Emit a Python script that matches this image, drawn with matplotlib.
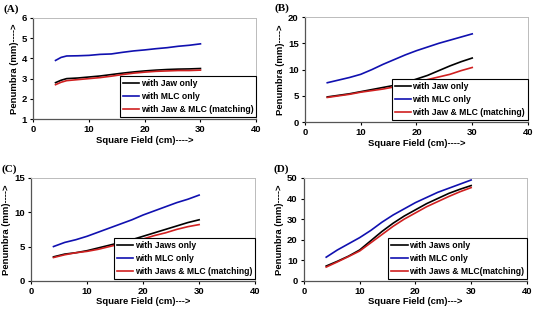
import matplotlib
matplotlib.use("Agg")
import matplotlib.pyplot as plt

field = [4, 6, 8, 10, 12, 14, 16, 18, 20, 22, 24, 26, 28, 30]
field_a = [4, 5, 6, 8, 10, 12, 14, 16, 18, 20, 22, 24, 26, 28, 30]

# (A)
a_jaw = [2.8, 2.92, 3.0, 3.03, 3.08, 3.13, 3.2, 3.27, 3.33, 3.38, 3.42, 3.45, 3.47, 3.48, 3.5]
a_mlc = [3.9, 4.05, 4.12, 4.13, 4.15, 4.2, 4.22, 4.3, 4.37, 4.42, 4.48, 4.53, 4.6, 4.65, 4.72]
a_both = [2.7, 2.82, 2.9, 2.95, 3.0, 3.05, 3.12, 3.2, 3.27, 3.32, 3.36, 3.38, 3.4, 3.4, 3.42]
# (B)
b_jaw = [4.8, 5.1, 5.4, 5.8, 6.2, 6.6, 7.0, 7.5, 8.2, 8.9, 9.8, 10.7, 11.5, 12.2]
b_mlc = [7.5, 8.0, 8.5, 9.1, 10.0, 11.0, 11.9, 12.8, 13.6, 14.3, 15.0, 15.6, 16.2, 16.8]
b_both = [4.7, 5.0, 5.3, 5.7, 6.0, 6.3, 6.7, 7.1, 7.6, 8.1, 8.6, 9.1, 9.8, 10.4]
# (C)
c_jaw = [3.5, 3.9, 4.1, 4.4, 4.8, 5.2, 5.6, 6.0, 6.5, 7.0, 7.5, 8.0, 8.5, 8.9]
c_mlc = [5.0, 5.6, 6.0, 6.5, 7.1, 7.7, 8.3, 8.9, 9.6, 10.2, 10.8, 11.4, 11.9, 12.5]
c_both = [3.4, 3.8, 4.1, 4.3, 4.6, 5.0, 5.4, 5.8, 6.1, 6.6, 7.0, 7.5, 7.9, 8.2]
# (D)
d_jaw = [7.2, 9.5, 12, 15, 19.5, 24, 28, 31.5, 34.5, 37.5, 40, 42.5, 44.5, 46.3]
d_mlc = [11.5, 15, 18, 21, 24.5, 28.5, 32, 35, 38, 40.5, 43, 45, 47, 49]
d_both = [6.7, 9.2, 11.8, 14.5, 18.5, 22.5, 26.5, 30, 33, 36, 38.5, 41, 43.3, 45.3]

labels_ab = ["with Jaw only", "with MLC only", "with Jaw & MLC (matching)"]
labels_c = ["with Jaws only", "with MLC only", "with Jaws & MLC (matching)"]
labels_d = ["with Jaws only", "with MLC only", "with Jaws & MLC(matching)"]

plt.rcParams['font.family'] = ['Liberation Sans', 'DejaVu Sans']
plt.rcParams['font.weight'] = 'bold'
plt.rcParams['axes.labelweight'] = 'bold'

fig = plt.figure(figsize=(5.36, 3.10), dpi=100)

panels = [
    ("(A)", [0.062, 0.616, 0.416, 0.326], field_a, a_jaw, a_mlc, a_both, (1, 6), [1, 2, 3, 4, 5, 6], labels_ab, "Square Field (cm)---->"),
    ("(B)", [0.569, 0.606, 0.416, 0.339], field, b_jaw, b_mlc, b_both, (0, 20), [0, 5, 10, 15, 20], labels_ab, "Square Field (cm)---->"),
    ("(C)", [0.058, 0.094, 0.418, 0.332], field, c_jaw, c_mlc, c_both, (0, 15), [0, 5, 10, 15], labels_c, "Square Field (cm)--->"),
    ("(D)", [0.567, 0.094, 0.416, 0.332], field, d_jaw, d_mlc, d_both, (0, 50), [0, 10, 20, 30, 40, 50], labels_d, "Square Field (cm)--->"),
]

for tag, pos, x, jaw, mlc, both, ylim, yticks, labels, xlabel in panels:
    ax = fig.add_axes(pos)
    ax.plot(x, jaw, color='black', lw=1.2, label=labels[0])
    ax.plot(x, mlc, color='#1010b0', lw=1.2, label=labels[1])
    ax.plot(x, both, color='#d02020', lw=1.2, label=labels[2])
    ax.set_xlim(0, 40)
    ax.set_ylim(*ylim)
    ax.set_xticks([0, 10, 20, 30, 40])
    ax.set_yticks(yticks)
    ax.tick_params(labelsize=6.8, length=2.5, width=0.8, pad=2)
    for lab in ax.get_xticklabels() + ax.get_yticklabels():
        lab.set_fontweight('bold')
    for s in ['left', 'bottom']:
        ax.spines[s].set_color('#555555')
        ax.spines[s].set_linewidth(0.9)
    for s in ['top', 'right']:
        ax.spines[s].set_color('#bbbbbb')
        ax.spines[s].set_linewidth(0.7)
    ax.set_xlabel(xlabel, fontsize=6.8, labelpad=1, fontweight='bold')
    ax.set_ylabel("Penumbra (mm)---->", fontsize=6.8, labelpad=2, fontweight='bold')
    leg = ax.legend(loc='lower right', bbox_to_anchor=(1.0, 0.02),
                    prop={'size': 6.2, 'weight': 'bold'},
                    handlelength=1.9, handletextpad=0.15, borderpad=0.35,
                    labelspacing=0.45, fancybox=False, framealpha=1,
                    borderaxespad=0.0)
    leg.get_frame().set_edgecolor('black')
    leg.get_frame().set_linewidth(0.8)
    fig.text(pos[0] - 0.056, pos[1] + pos[3] + 0.012, tag, fontsize=8,
             family='Liberation Serif', weight='bold', va='bottom')

fig.savefig("out.png", dpi=100)
